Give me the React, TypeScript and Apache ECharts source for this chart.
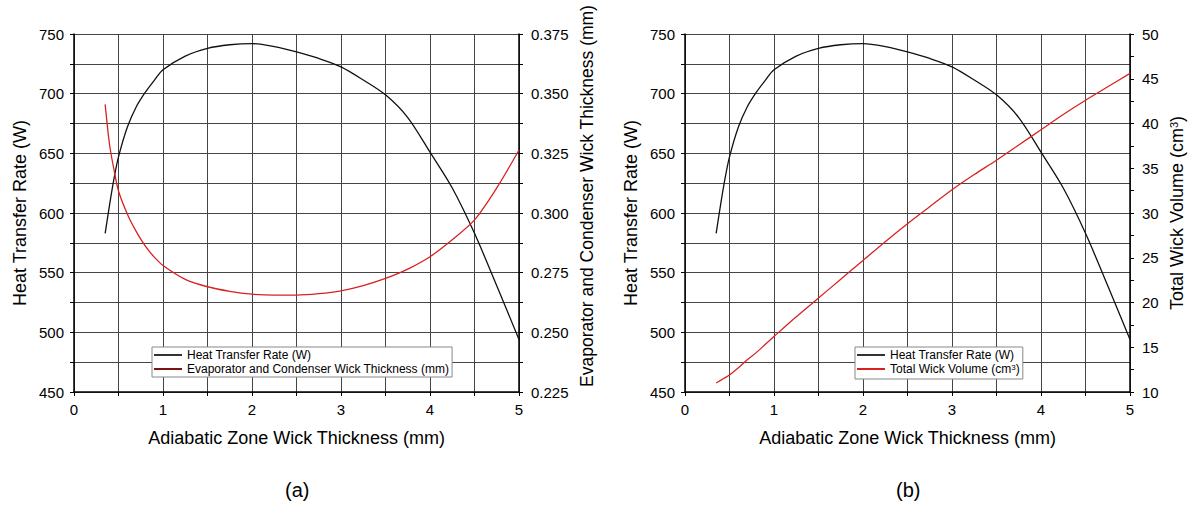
import React, { useEffect, useRef } from "react";
import * as echarts from "echarts";

// Adiabatic zone wick thickness (mm) — shared x values
const adiabaticThickness = [0.35, 0.4, 0.45, 0.5, 0.6, 0.7, 0.8, 0.9, 1.0, 1.25, 1.5, 1.75, 2.0, 2.25, 2.5, 2.75, 3.0, 3.25, 3.5, 3.75, 4.0, 4.25, 4.5, 4.75, 5.0];
// Heat transfer rate (W)
const heatTransferRate = [583, 607, 629, 647, 672, 689, 701, 711, 720, 731.5, 738, 741, 742, 739.5, 735, 729.5, 722.5, 711.5, 699, 680, 651, 621, 583, 539, 494];
// Evaporator and condenser wick thickness (mm)
const ecWickThickness = [0.3455, 0.3285, 0.318, 0.3092, 0.2995, 0.2922, 0.2862, 0.2816, 0.278, 0.2722, 0.2691, 0.2672, 0.266, 0.2656, 0.2656, 0.2662, 0.2674, 0.2696, 0.2726, 0.2765, 0.2817, 0.2888, 0.2971, 0.3105, 0.3264];
// Total wick volume (cm3)
const totalWickVolume = [11.0, 11.3, 11.6, 11.9, 12.7, 13.6, 14.4, 15.3, 16.2, 18.4, 20.5, 22.6, 24.7, 26.8, 28.8, 30.7, 32.6, 34.3, 35.9, 37.6, 39.3, 41.0, 42.6, 44.1, 45.6];

const xTitle = "Adiabatic Zone Wick Thickness (mm)";
const htrName = "Heat Transfer Rate (W)";
const ecName = "Evaporator and Condenser Wick Thickness (mm)";
const volName = "Total Wick Volume (cm3)";
const captions = ["(a)", "(b)"];

const FONT = "Liberation Sans, Arial, sans-serif";
const GRID_COLOR = "#454545";
const TITLE_SIZE = 18;

const pairs = (ys: number[]) => adiabaticThickness.map((x, i) => [x, ys[i]]);

function xAxis(gridIndex: number) {
  return {
    type: "value",
    gridIndex,
    min: 0,
    max: 5,
    interval: 1,
    name: xTitle,
    nameLocation: "middle",
    nameGap: 37,
    nameTextStyle: { fontFamily: FONT, fontSize: TITLE_SIZE, color: "#000" },
    axisLine: { show: true, onZero: false, lineStyle: { color: "#000", width: 1.5 } },
    axisTick: { show: true, length: 4, lineStyle: { color: "#000" } },
    minorTick: { show: true, splitNumber: 2, length: 4, lineStyle: { color: "#000" } },
    splitLine: { show: true, lineStyle: { color: GRID_COLOR, width: 1 } },
    minorSplitLine: { show: true, lineStyle: { color: GRID_COLOR, width: 1 } },
    axisLabel: { fontFamily: FONT, fontSize: 15, color: "#000", margin: 10 },
  };
}

function yAxis(gridIndex: number, position: string, min: number, max: number, interval: number, name: string, nameGap: number, opts: any = {}) {
  return {
    type: "value",
    gridIndex,
    position,
    min,
    max,
    interval,
    name,
    nameLocation: "middle",
    nameRotate: 90,
    nameGap,
    nameTextStyle: {
      fontFamily: FONT,
      fontSize: TITLE_SIZE,
      color: "#000",
      rich: { sup: { fontFamily: FONT, fontSize: 11, verticalAlign: "top", lineHeight: 10, padding: [0, 0, 8, 0] } },
      ...(opts.nameTextStyle || {}),
    },
    axisLine: { show: true, onZero: false, lineStyle: { color: "#000", width: 1.5 } },
    axisTick: { show: true, length: 4, lineStyle: { color: "#000" } },
    minorTick: { show: true, splitNumber: 2, length: 4, lineStyle: { color: "#000" } },
    splitLine: { show: opts.split !== false, lineStyle: { color: GRID_COLOR, width: 1 } },
    minorSplitLine: { show: opts.split !== false, lineStyle: { color: GRID_COLOR, width: 1 } },
    axisLabel: {
      fontFamily: FONT,
      fontSize: 15,
      color: "#000",
      margin: position === "left" ? 10 : 12,
      formatter: opts.formatter,
    },
  };
}

function lineSeries(name: string, xi: number, yi: number, ys: number[], color: string, legendColor: string) {
  return {
    name,
    type: "line",
    xAxisIndex: xi,
    yAxisIndex: yi,
    data: pairs(ys),
    smooth: 0.3,
    showSymbol: false,
    lineStyle: { color, width: 1.3 },
    itemStyle: { color: legendColor },
  };
}

export default function App() {
  const ref = useRef<HTMLDivElement>(null);
  useEffect(() => {
    if (!ref.current) return;
    const chart = echarts.init(ref.current, undefined, { renderer: "svg" });
    const legendBase = {
      orient: "vertical",
      backgroundColor: "#fff",
      borderColor: "#888",
      borderWidth: 1,
      padding: [2, 3, 2, 2],
      itemGap: 2,
      itemWidth: 28,
      itemHeight: 2,
      icon: "rect",
      textStyle: {
        fontFamily: FONT,
        fontSize: 12,
        color: "#000",
        rich: { sup: { fontFamily: FONT, fontSize: 8, verticalAlign: "top", lineHeight: 8, padding: [0, 0, 6, 0] } },
      },
      formatter: (n: string) => (n === volName ? "Total Wick Volume (cm{sup|3})" : n),
    };
    chart.setOption({
      animation: false,
      backgroundColor: "#fff",
      grid: [
        { left: 74, top: 34, width: 445, height: 358, outerBoundsMode: "none" },
        { left: 685, top: 34, width: 445, height: 358, outerBoundsMode: "none" },
      ],
      xAxis: [xAxis(0), xAxis(1)],
      yAxis: [
        yAxis(0, "left", 450, 750, 50, htrName, 45),
        yAxis(0, "right", 0.225, 0.375, 0.025, ecName, 59, {
          split: false,
          formatter: (v: number) => v.toFixed(3),
          nameTextStyle: { fontSize: 17.5, padding: [0, 0, 0, 34] },
        }),
        yAxis(1, "left", 450, 750, 50, htrName, 45),
        yAxis(1, "right", 10, 50, 5, "Total Wick Volume (cm{sup|3})", 38, { split: false }),
      ],
      legend: [
        { ...legendBase, left: 152, top: 347, data: [htrName, ecName] },
        { ...legendBase, left: 855, top: 347, data: [{ name: htrName }, { name: volName }] },
      ],
      series: [
        lineSeries(htrName, 0, 0, heatTransferRate, "#111", "#333"),
        lineSeries(ecName, 0, 1, ecWickThickness, "#d82222", "#7a1414"),
        lineSeries(htrName, 1, 2, heatTransferRate, "#111", "#333"),
        lineSeries(volName, 1, 3, totalWickVolume, "#d82222", "#d82222"),
      ],
      graphic: [
        { type: "text", left: 285, top: 480, style: { text: captions[0], fontFamily: FONT, fontSize: 20, fill: "#000" } },
        { type: "text", left: 896, top: 480, style: { text: captions[1], fontFamily: FONT, fontSize: 20, fill: "#000" } },
      ],
    });
    return () => chart.dispose();
  }, []);
  return <div ref={ref} style={{ position: "fixed", left: 0, top: 0, width: 1191, height: 506 }} />;
}
